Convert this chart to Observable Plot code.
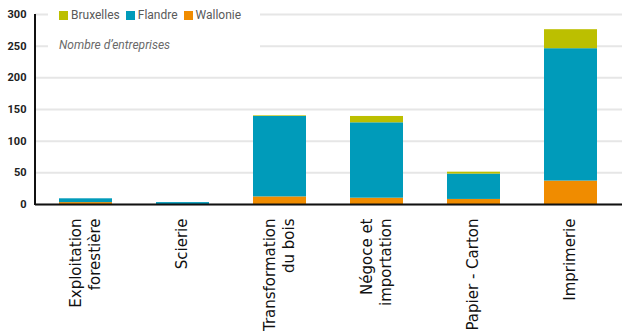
<!DOCTYPE html>
<html>
<head>
<meta charset="utf-8">
<script src="https://cdn.jsdelivr.net/npm/d3@7"></script>
<script src="https://cdn.jsdelivr.net/npm/@observablehq/plot@0.6"></script>
<style>
  html, body { margin: 0; padding: 0; background: #fff; }
  #wrap { position: relative; width: 622px; height: 336px; overflow: hidden; }
  #overlay { position: absolute; left: 48px; top: 5px; width: 212px; height: 54px; background: #fff; font-family: Roboto, "Liberation Sans", sans-serif; font-size: 12px; color: #5a5a5a; }
  #legend { position: absolute; left: 11px; top: 3px; display: flex; align-items: center; white-space: nowrap; }
  #legend .sw { display: inline-block; width: 9px; height: 9px; margin-right: 3px; }
  #legend .item { display: inline-flex; align-items: center; margin-right: 6px; }
  #subtitle { position: absolute; left: 11px; top: 33px; font-style: italic; color: #6a6a6a; white-space: nowrap; }
</style>
</head>
<body>
<div id="wrap">
  <div id="chart"></div>
  <div id="overlay">
    <div id="legend"></div>
    <div id="subtitle"></div>
  </div>
</div>
<script>
const categories = ["Exploitation\nforestière", "Scierie", "Transformation\ndu bois", "Négoce et\nimportation", "Papier - Carton", "Imprimerie"];
const regions = ["Wallonie", "Flandre", "Bruxelles"];
const wallonie = [3, 0, 12, 10, 8, 37];
const flandre = [6, 3, 127, 119, 40, 209];
const bruxelles = [0, 0, 1, 10, 3, 30];
const yTicks = [0, 50, 100, 150, 200, 250, 300];
const legendOrder = ["Bruxelles", "Flandre", "Wallonie"];
const subtitle = "Nombre d’entreprises";
const colors = {Bruxelles: "#bcbf00", Flandre: "#009bba", Wallonie: "#f08c00"};

const series = {Wallonie: wallonie, Flandre: flandre, Bruxelles: bruxelles};
const data = [];
categories.forEach((c, i) => {
  regions.forEach(r => data.push({cat: c, region: r, value: series[r][i]}));
});

const chart = Plot.plot({
  width: 622,
  height: 336,
  marginTop: 14,
  marginBottom: 132,
  marginLeft: 35,
  marginRight: 0,
  style: {background: "#fff"},
  x: {domain: categories, paddingInner: 0.45, paddingOuter: 0.23, label: null},
  y: {domain: [0, 300], label: null},
  color: {domain: regions, range: regions.map(r => colors[r])},
  marks: [
    Plot.ruleY(yTicks, {stroke: "#e6e6e6", strokeWidth: 2}),
    Plot.barY(data, {x: "cat", y: "value", fill: "region", order: regions}),
    Plot.ruleY([0], {stroke: "#111", strokeWidth: 2}),
    Plot.axisY({ticks: yTicks, tickSize: 0, tickPadding: 9, fontSize: 11, fontWeight: "bold", fontFamily: "Roboto, sans-serif", fill: "#222", label: null}),
    Plot.axisX({tickSize: 0, tickRotate: -90, tickPadding: 14, dx: -2, fontSize: 15, fontFamily: "DejaVu Sans, sans-serif", fill: "#111", lineHeight: 1.3, label: null})
  ]
});

// y axis line at the left edge of the frame, from the scales
const ys = chart.scale("y").range;
const xs = chart.scale("x").range;
d3.select(chart).append("line")
  .attr("x1", xs[0]).attr("x2", xs[0])
  .attr("y1", ys[1]).attr("y2", ys[0] + 1)
  .attr("stroke", "#111").attr("stroke-width", 2);

document.getElementById("chart").appendChild(chart);

const legend = d3.select("#legend");
legendOrder.forEach(r => {
  const it = legend.append("span").attr("class", "item");
  it.append("span").attr("class", "sw").style("background", colors[r]);
  it.append("span").text(r);
});
document.getElementById("subtitle").textContent = subtitle;
</script>
</body>
</html>
